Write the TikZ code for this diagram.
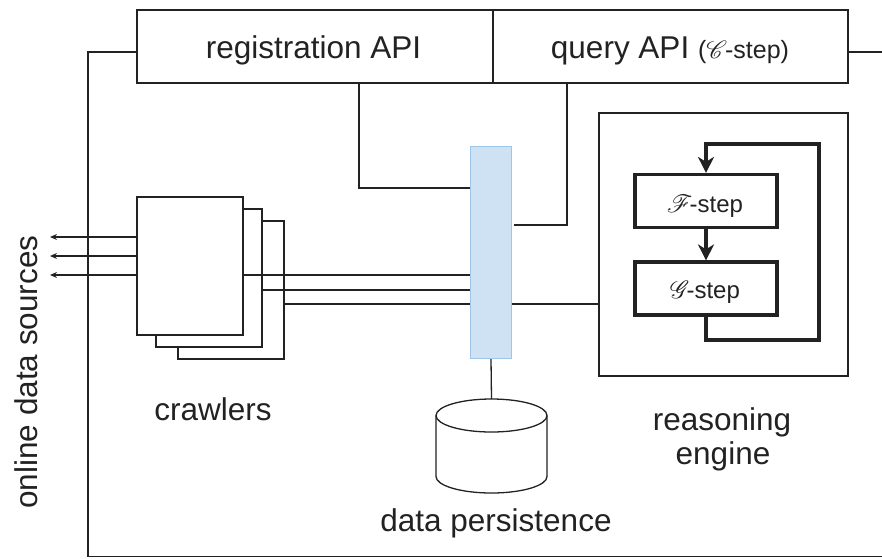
\documentclass[tikz,border=0pt]{standalone}
\usepackage{fontspec}
\setmainfont{Liberation Sans}
\usepackage{mathrsfs}
\usetikzlibrary{arrows.meta,calc}
\definecolor{ink}{HTML}{222222}
\definecolor{busfill}{HTML}{CFE2F3}
\definecolor{busline}{HTML}{9FC5E8}
\newcommand{\scr}[2]{{\fontsize{#2}{#2}\selectfont$\mathscr{#1}$}}
\begin{document}
\begin{tikzpicture}[x=1pt,y=-1pt,
  line width=1.3pt, draw=ink,
  lbl/.style={font=\fontsize{31.5}{37}\selectfont, inner sep=0pt, anchor=base, text=ink},
  steplbl/.style={font=\fontsize{24}{29}\selectfont, inner sep=0pt, anchor=base, text=ink},
  box/.style={draw=ink, fill=white, rectangle, inner sep=0pt, minimum width=#1},
  stepbox/.style={draw=ink, fill=white, rectangle, inner sep=0pt, line width=3.2pt,
    minimum width=142pt, minimum height=53pt},
  loopline/.style={draw=ink, line width=3.2pt, line join=miter},
  bigtip/.style={-{Stealth[length=16pt,width=16pt,inset=5pt]}},
  smalltip/.style={-{Stealth[length=7pt,width=6pt]}},
]
\useasboundingbox (0,0) rectangle (882,558);

% API bar
\node[box=356pt, minimum height=73pt] (regapi) at (315,46.5) {};
\node[box=355pt, minimum height=73pt] (qryapi) at (670.5,46.5) {};
\node[lbl] (regtxt) at (313.5,58) {registration API};
\node[lbl] (qrytxt) at (670,58) {query API {\fontsize{25}{30}\selectfont(\scr{C}{28}\kern-2pt-step)}};

% outer frame
\coordinate (frameTL) at (88,52);
\coordinate (frameBL) at (88,556.5);
\coordinate (frameBR) at (882,556.5);
\coordinate (frameTR) at (882,52);
\draw (regapi.west |- frameTL) -- (frameTL) -- (frameBL) -- (frameBR);
\draw (qryapi.east |- frameTR) -- (frameTR);

% crawlers (stacked)
\node[box=106pt, minimum height=138pt] (crawler3) at (231,290) {};
\node[box=106pt, minimum height=138pt] (crawler2) at (209,278) {};
\node[box=106pt, minimum height=138pt] (crawler1) at (190,266) {};
\node[lbl] (crawltxt) at (213,420) {crawlers};

% online sources
\coordinate (src1) at (50,237);
\coordinate (src2) at (50,256);
\coordinate (src3) at (50,275);
\draw[smalltip] (crawler1.west |- src1) -- (src1);
\draw[smalltip] (crawler1.west |- src2) -- (src2);
\draw[smalltip] (crawler1.west |- src3) -- (src3);
\node[lbl, rotate=90] (srctxt) at (37,372) {online data sources};

% message bus
\node[rectangle, draw=busline, fill=busfill, line width=1.3pt, inner sep=0pt,
  minimum width=41pt, minimum height=212pt] (bus) at (491,252.5) {};

% API connections
\coordinate (regrow) at (0,188);
\coordinate (qryrow) at (0,225);
\draw (regapi.south -| 359,0) |- (bus.west |- regrow);
\draw (qryapi.south -| 567,0) |- ([xshift=2pt]bus.east |- qryrow);

% crawler connections
\coordinate (row1) at (0,275);
\coordinate (row2) at (0,290);
\coordinate (row3) at (0,304);
\draw (crawler1.east |- row1) -- (bus.west |- row1);
\draw (crawler2.east |- row2) -- (bus.west |- row2);
\draw (crawler3.east |- row3) -- (bus.west |- row3);

% reasoning engine
\node[box=249pt, minimum height=263pt] (engine) at (723.5,244.5) {};
\draw (bus.east |- row3) -- (engine.west |- row3);
\node[stepbox] (fstep) at (706,201) {};
\node[stepbox] (gstep) at (706,288.5) {};
\node[steplbl] (ftxt) at (705,212) {\scr{F}{29}\kern-3pt-step};
\node[steplbl] (gtxt) at (705,298) {\scr{G}{29}\kern-3pt-step};
\draw[loopline, bigtip] (fstep.south) -- (gstep.north);
\coordinate (loopBR) at (819,340);
\coordinate (loopTR) at (819,144);
\draw[loopline, bigtip] (gstep.south) |- (loopBR) -- (loopTR) -| (fstep.north);
\node[lbl] (engtxt1) at (722,430) {reasoning};
\node[lbl] (engtxt2) at (723,464) {engine};

% data persistence
\coordinate (dbtop) at (491.5,399);
\draw (bus.south) -- (dbtop);
\draw[fill=white] (436,415.5) -- (436,476.5)
  arc[start angle=180, end angle=360, x radius=55.5pt, y radius=16.5pt] -- (547,415.5);
\draw[fill=white] (491.5,415.5) ellipse[x radius=55.5pt, y radius=16.5pt];
\node[lbl] (dbtxt) at (496,531) {data persistence};
\end{tikzpicture}
\end{document}
